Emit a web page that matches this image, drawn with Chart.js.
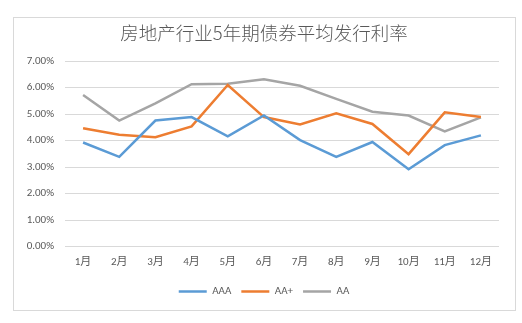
<!DOCTYPE html>
<html>
<head>
<meta charset="utf-8">
<script src="https://cdn.jsdelivr.net/npm/chart.js@4/dist/chart.umd.min.js"></script>
<style>
  html, body { margin: 0; padding: 0; background: #fff; }
  #wrap { position: relative; width: 522px; height: 323px; }
  #frame { position: absolute; left: 13px; top: 17px; width: 501px; height: 292px; border: 1px solid #d9d9d9; }
  canvas { position: absolute; left: 0; top: 0; }
</style>
</head>
<body>
<div id="wrap">
  <div id="frame"></div>
  <canvas id="c" width="522" height="323"></canvas>
</div>
<script>
const months = ['1月', '2月', '3月', '4月', '5月', '6月', '7月', '8月', '9月', '10月', '11月', '12月'];
const aaa = [3.93, 3.39, 4.76, 4.89, 4.16, 4.95, 4.02, 3.39, 3.95, 2.92, 3.83, 4.20];
const aaPlus = [4.47, 4.22, 4.13, 4.54, 6.10, 4.89, 4.61, 5.03, 4.63, 3.49, 5.07, 4.89];
const aa = [5.72, 4.76, 5.41, 6.13, 6.15, 6.32, 6.07, 5.58, 5.09, 4.95, 4.35, 4.88];

const fontFam = 'Calibri, Carlito, "Liberation Sans", "Noto Sans CJK SC", sans-serif';
const textCol = '#595959';

function line(label, data, color) {
    return {
        label: label,
        data: data,
        borderColor: color,
        backgroundColor: color,
        borderWidth: 2.5,
        pointRadius: 0,
        tension: 0,
        fill: false
    };
}

// let the y tick labels spill into the left padding
const unclipY = {
    id: 'unclipY',
    afterLayout: function (chart) { chart.scales.y.left = 0; }
};

new Chart('c', {
    type: 'line',
    data: {
        labels: months,
        datasets: [
            line('AAA', aaa, '#5b9bd5'),
            line('AA+', aaPlus, '#ed7d31'),
            line('AA', aa, '#a5a5a5')
        ]
    },
    plugins: [unclipY],
    options: {
        responsive: false,
        animation: false,
        layout: { padding: { top: 20, right: 23, bottom: 16, left: 29 } },
        plugins: {
            title: {
                display: true,
                text: '房地产行业5年期债券平均发行利率',
                color: textCol,
                font: { family: '"Noto Sans CJK SC", sans-serif', size: 18.5, weight: 300 },
                padding: { top: 2, bottom: 17 }
            },
            legend: {
                position: 'bottom',
                labels: {
                    color: textCol,
                    font: { family: fontFam, size: 11 },
                    usePointStyle: true,
                    pointStyle: 'line',
                    pointStyleWidth: 28,
                    boxHeight: 11,
                    padding: 10
                }
            },
            tooltip: { enabled: false }
        },
        scales: {
            x: {
                offset: true,
                grid: { display: false, drawTicks: false },
                border: { display: false },
                ticks: { color: textCol, font: { family: fontFam, size: 11 }, padding: 9 },
                afterFit: function (scale) { scale.height = 29.4; }
            },
            y: {
                min: 0,
                max: 7,
                grid: { color: '#d9d9d9', drawTicks: false },
                border: { display: false },
                ticks: {
                    stepSize: 1,
                    color: textCol,
                    font: { family: fontFam, size: 11 },
                    padding: 11,
                    callback: function (v) { return v.toFixed(2) + '%'; }
                },
                afterFit: function (scale) { scale.width = 36; }
            }
        }
    }
});
</script>
</body>
</html>
